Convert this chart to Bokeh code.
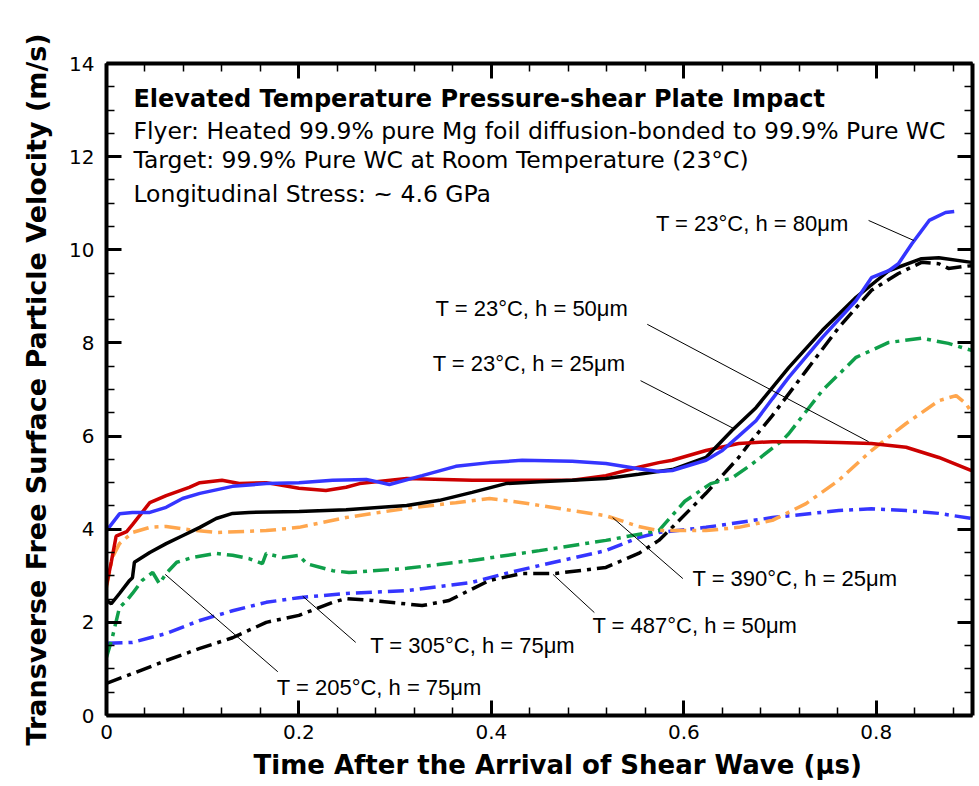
from bokeh.plotting import figure
from bokeh.models import Range1d, FixedTicker, LinearAxis, Label, CustomLabelingPolicy, Title
from bokeh.embed import file_html
from bokeh.resources import INLINE

# ---------------- data (t in microseconds, v in m/s) ----------------
t_23_80 = [0, 0.0135, 0.027, 0.045, 0.062, 0.079, 0.097, 0.131, 0.166, 0.200, 0.235, 0.270, 0.294,
           0.328, 0.363, 0.398, 0.432, 0.484, 0.519, 0.553, 0.574, 0.588, 0.623, 0.640, 0.657, 0.675,
           0.692, 0.709, 0.744, 0.779, 0.795, 0.813, 0.823, 0.837, 0.855, 0.872, 0.881]
v_23_80 = [3.97, 4.33, 4.36, 4.36, 4.47, 4.66, 4.77, 4.92, 4.98, 5.0, 5.05, 5.07, 4.96,
           5.15, 5.35, 5.43, 5.48, 5.46, 5.41, 5.3, 5.24, 5.26, 5.48, 5.69, 6.0, 6.33,
           6.8, 7.26, 8.12, 8.91, 9.4, 9.55, 9.7, 10.13, 10.63, 10.8, 10.82]

t_23_50 = [0, 0.005, 0.010, 0.021, 0.027, 0.045, 0.062, 0.086, 0.097, 0.120, 0.138, 0.166, 0.200,
           0.228, 0.249, 0.263, 0.312, 0.380, 0.450, 0.484, 0.519, 0.553, 0.574, 0.588, 0.623,
           0.657, 0.692, 0.727, 0.761, 0.795, 0.831, 0.865, 0.899]
v_23_50 = [2.8, 3.3, 3.85, 3.95, 4.1, 4.57, 4.72, 4.9, 5.0, 5.05, 4.98, 5.0, 4.88,
           4.83, 4.9, 4.98, 5.09, 5.05, 5.05, 5.05, 5.15, 5.33, 5.43, 5.48, 5.69,
           5.84, 5.88, 5.88, 5.86, 5.84, 5.76, 5.54, 5.26]

t_23_25 = [0, 0.005, 0.0135, 0.024, 0.027, 0.029, 0.045, 0.062, 0.079, 0.097, 0.114, 0.131, 0.148,
           0.200, 0.249, 0.312, 0.346, 0.380, 0.415, 0.450, 0.484, 0.519, 0.553, 0.588, 0.623,
           0.650, 0.675, 0.709, 0.744, 0.779, 0.813, 0.847, 0.865, 0.899]
v_23_25 = [2.47, 2.4, 2.62, 2.9, 2.96, 3.29, 3.5, 3.69, 3.86, 4.04, 4.23, 4.34, 4.36,
           4.38, 4.42, 4.51, 4.62, 4.79, 4.98, 5.02, 5.05, 5.09, 5.18, 5.28, 5.54,
           6.12, 6.61, 7.47, 8.27, 8.98, 9.55, 9.81, 9.83, 9.73]

t_487_50 = [0, 0.027, 0.062, 0.097, 0.131, 0.166, 0.200, 0.235, 0.249, 0.276, 0.328, 0.356, 0.398,
            0.432, 0.467, 0.519, 0.553, 0.574, 0.588, 0.623, 0.657, 0.668, 0.692, 0.727, 0.761,
            0.795, 0.823, 0.847, 0.865, 0.875, 0.899]
v_487_50 = [0.69, 0.9, 1.18, 1.44, 1.67, 2.0, 2.15, 2.43, 2.51, 2.47, 2.36, 2.47, 2.9,
            3.05, 3.05, 3.18, 3.48, 3.76, 4.04, 4.77, 5.54, 5.84, 6.44, 7.4, 8.33,
            9.13, 9.49, 9.73, 9.7, 9.6, 9.66]

t_205_75 = [0, 0.006, 0.0135, 0.021, 0.027, 0.037, 0.048, 0.055, 0.062, 0.073, 0.089, 0.114, 0.131,
            0.148, 0.162, 0.166, 0.183, 0.200, 0.208, 0.235, 0.252, 0.312, 0.380, 0.450, 0.519,
            0.574, 0.601, 0.628, 0.650, 0.671, 0.702, 0.709, 0.744, 0.779, 0.813, 0.847, 0.875, 0.899]
v_205_75 = [1.25, 1.67, 2.32, 2.47, 2.62, 2.9, 3.07, 2.83, 3.05, 3.29, 3.39, 3.48, 3.44,
            3.37, 3.26, 3.48, 3.39, 3.44, 3.26, 3.11, 3.07, 3.16, 3.33, 3.54, 3.76,
            3.97, 4.6, 4.98, 5.1, 5.4, 5.9, 6.05, 6.98, 7.69, 8.01, 8.1, 7.99, 7.84]

t_305_75 = [0, 0.027, 0.062, 0.097, 0.131, 0.166, 0.200, 0.249, 0.312, 0.380, 0.415, 0.450, 0.519,
            0.553, 0.574, 0.623, 0.692, 0.761, 0.795, 0.831, 0.865, 0.899]
v_305_75 = [1.55, 1.57, 1.76, 2.04, 2.25, 2.43, 2.53, 2.62, 2.68, 2.86, 3.05, 3.22, 3.54,
            3.82, 3.93, 4.04, 4.25, 4.4, 4.44, 4.4, 4.34, 4.23]

t_390_25 = [0, 0.006, 0.0135, 0.027, 0.045, 0.062, 0.086, 0.114, 0.166, 0.200, 0.249, 0.312, 0.363,
            0.398, 0.432, 0.484, 0.519, 0.553, 0.574, 0.623, 0.657, 0.692, 0.727, 0.761, 0.795,
            0.831, 0.865, 0.883, 0.893, 0.899]
v_390_25 = [2.75, 3.39, 3.69, 3.93, 4.04, 4.06, 3.99, 3.93, 3.97, 4.04, 4.25, 4.45, 4.57,
            4.66, 4.57, 4.4, 4.29, 4.06, 3.97, 3.97, 4.04, 4.19, 4.55, 5.05, 5.69,
            6.27, 6.76, 6.87, 6.7, 6.51]

x_ticks = [0, 0.2, 0.4, 0.6, 0.8]
x_minor = [round(0.04 * i, 2) for i in range(0, 23)]
y_ticks = [0, 2, 4, 6, 8, 10, 12, 14]
y_minor = [0.5 * i for i in range(0, 29)]

x_title = "Time After the Arrival of Shear Wave (\u03bcs)"
y_title = "Transverse Free Surface Particle Velocity (m/s)"

header_lines = [
    "Elevated Temperature Pressure-shear Plate Impact",
    "Flyer: Heated 99.9% pure Mg foil diffusion-bonded to 99.9% Pure WC",
    "Target: 99.9% Pure WC at Room Temperature (23\u00b0C)",
    "Longitudinal Stress: ~ 4.6 GPa",
]

labels = [
    "T = 23\u00b0C, h = 80\u03bcm",
    "T = 23\u00b0C, h = 50\u03bcm",
    "T = 23\u00b0C, h = 25\u03bcm",
    "T = 390\u00b0C, h = 25\u03bcm",
    "T = 487\u00b0C, h = 50\u03bcm",
    "T = 305\u00b0C, h = 75\u03bcm",
    "T = 205\u00b0C, h = 75\u03bcm",
]

# ---------------- layout / styling ----------------
FONT = "Liberation Sans"
WIDE = "DejaVu Sans"
RED = "#cc0000"
BLUE = "#3535ff"
GREEN = "#0f9f4a"
ORANGE = "#ffa64d"
BLACK = "#000000"

p = figure(width=976, height=786, x_range=Range1d(0, 0.9), y_range=Range1d(0, 14),
           output_backend="svg", toolbar_location=None,
           min_border_left=106, min_border_right=4, min_border_top=63, min_border_bottom=71)
p.outline_line_color = None
p.xgrid.visible = False
p.ygrid.visible = False

HIDE_ALL = "for (const i of indices) indices.unset(i); return indices"


def style_axis(ax, show_labels, ticks):
    ax.axis_line_width = 4
    ax.axis_line_color = "black"
    ax.major_tick_in = 15
    ax.major_tick_out = 0
    ax.minor_tick_in = 8
    ax.minor_tick_out = 0
    ax.major_tick_line_width = 3
    ax.minor_tick_line_width = 1.5
    ax.major_label_text_font = WIDE
    ax.major_label_text_font_size = "20px"
    ax.major_label_text_color = "black"
    if not show_labels:
        ax.major_label_overrides = {t: "" for t in ticks}
        ax.major_label_policy = CustomLabelingPolicy(code=HIDE_ALL)
        ax.major_label_standoff = 0


xa = p.xaxis[0]
xa.ticker = FixedTicker(ticks=x_ticks, minor_ticks=x_minor)
style_axis(xa, True, x_ticks)
xa.major_label_standoff = 9

ya = p.yaxis[0]
ya.ticker = FixedTicker(ticks=y_ticks, minor_ticks=y_minor)
style_axis(ya, True, y_ticks)
ya.major_label_standoff = 12

top = LinearAxis(ticker=FixedTicker(ticks=x_ticks, minor_ticks=x_minor))
style_axis(top, False, x_ticks)
p.add_layout(top, "above")
right = LinearAxis(ticker=FixedTicker(ticks=y_ticks, minor_ticks=y_minor))
style_axis(right, False, y_ticks)
p.add_layout(right, "right")

# axis titles as side titles, start-aligned for exact placement
p.add_layout(Title(text=x_title, align="left", text_font=WIDE, text_font_size="26px",
                   text_font_style="bold", text_color="black", standoff=12, offset=147,
                   text_line_height=0.8), "below")
p.add_layout(Title(text=y_title, align="left", text_font=WIDE, text_font_size="27px",
                   text_font_style="bold", text_color="black", standoff=30, offset=-30,
                   text_line_height=0.8), "left")

DASHDOT = "16 6 4 6"
LW = 3.5

p.line(t_305_75, v_305_75, line_color=BLUE, line_width=LW, line_dash=DASHDOT)
p.line(t_487_50, v_487_50, line_color=BLACK, line_width=LW, line_dash=DASHDOT)
p.line(t_205_75, v_205_75, line_color=GREEN, line_width=LW, line_dash=DASHDOT)
p.line(t_390_25, v_390_25, line_color=ORANGE, line_width=LW, line_dash=DASHDOT)
p.line(t_23_50, v_23_50, line_color=RED, line_width=LW)
p.line(t_23_25, v_23_25, line_color=BLACK, line_width=LW)
p.line(t_23_80, v_23_80, line_color=BLUE, line_width=LW)

# header text block
header_x = 0.028
header_y = [13.23, 12.54, 11.93, 11.19]
header_size = ["24px", "23.5px", "23.5px", "23.5px"]
for i, (txt, yy, fs) in enumerate(zip(header_lines, header_y, header_size)):
    p.add_layout(Label(x=header_x, y=yy, text=txt, text_font=WIDE,
                       text_font_size=fs, text_baseline="middle",
                       text_font_style="bold" if i == 0 else "normal",
                       text_color="black"))

# curve labels and leader lines
label_pos = [(0.571, 10.56), (0.342, 8.74), (0.339, 7.56), (0.609, 2.94),
             (0.505, 1.93), (0.274, 1.50), (0.177, 0.60)]
leader_x0 = [0.792, 0.562, 0.555, 0.599, 0.507, 0.259, 0.178]
leader_y0 = [10.63, 8.40, 7.19, 2.94, 2.21, 1.57, 0.94]
leader_x1 = [0.839, 0.792, 0.652, 0.526, 0.464, 0.204, 0.061]
leader_y1 = [10.20, 5.88, 6.16, 4.25, 3.03, 2.56, 3.03]

p.segment(leader_x0, leader_y0, leader_x1, leader_y1, line_color="black", line_width=1)
for txt, (lx, ly) in zip(labels, label_pos):
    p.add_layout(Label(x=lx, y=ly, text=txt, text_font=FONT, text_font_size="22px",
                       text_baseline="middle", text_color="black"))

open("out.html", "w").write(file_html(p, INLINE))
